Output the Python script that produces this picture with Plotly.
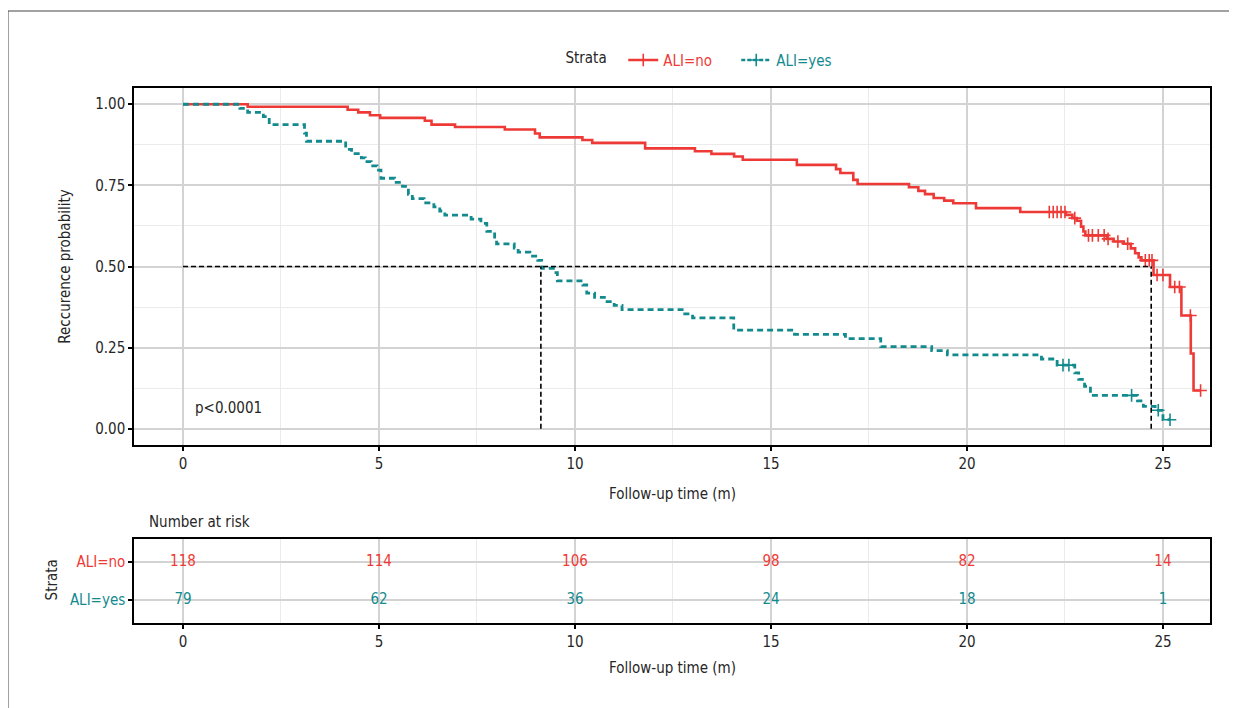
import numpy as np
import plotly.graph_objects as go

# ---------------- data ----------------
no_time = [0, 1.65, 4.2, 4.47, 4.77, 5.03, 6.17, 6.34, 6.94, 8.21, 8.98, 9.1, 10.19, 10.44,
           11.79, 13.06, 13.48, 14.06, 14.28, 15.66, 16.66, 16.77, 17.1, 17.21, 18.52, 18.76,
           18.93, 19.15, 19.42, 19.65, 20.23, 21.36, 22.52, 22.69, 22.8, 22.91, 22.97, 23.02,
           23.57, 23.74, 24.0, 24.18, 24.29, 24.38, 24.45, 24.76, 25.18, 25.47, 25.71, 25.78]
no_surv = [1.0, 0.992, 0.983, 0.975, 0.966, 0.958, 0.949, 0.937, 0.930, 0.922, 0.910, 0.898,
           0.890, 0.881, 0.864, 0.855, 0.847, 0.839, 0.829, 0.813, 0.800, 0.788, 0.767, 0.754,
           0.744, 0.733, 0.723, 0.711, 0.703, 0.695, 0.680, 0.668, 0.659, 0.649, 0.641, 0.623,
           0.608, 0.596, 0.585, 0.577, 0.570, 0.556, 0.541, 0.528, 0.519, 0.474, 0.437, 0.349,
           0.232, 0.118]
no_end = 25.96
no_cens = [22.1, 22.2, 22.3, 22.4, 22.5, 22.75, 23.1, 23.2, 23.35, 23.5, 23.6, 23.85, 24.1,
           24.55, 24.65, 24.72, 24.85, 25.0, 25.3, 25.42, 25.7, 25.96]

yes_time = [0, 1.45, 1.65, 2.05, 2.2, 3.1, 3.15, 4.15, 4.3, 4.55, 4.65, 4.8, 4.95, 5.05, 5.4,
            5.6, 5.75, 5.85, 6.15, 6.4, 6.55, 6.68, 7.35, 7.6, 7.75, 7.95, 8.0, 8.45, 8.55, 8.85,
            9.05, 9.15, 9.45, 9.55, 10.2, 10.3, 10.5, 10.75, 11.0, 11.2, 12.8, 13.0, 14.05, 15.6,
            16.9, 17.8, 19.1, 19.5, 21.9, 22.3, 22.75, 22.85, 23.0, 23.15, 24.35, 24.5, 24.8, 25.0]
yes_surv = [1.0, 0.987, 0.975, 0.962, 0.937, 0.911, 0.886, 0.861, 0.848, 0.835, 0.823, 0.810,
            0.797, 0.772, 0.759, 0.747, 0.722, 0.709, 0.696, 0.684, 0.671, 0.658, 0.646, 0.633,
            0.608, 0.583, 0.570, 0.557, 0.544, 0.532, 0.519, 0.494, 0.481, 0.456, 0.443, 0.418,
            0.405, 0.392, 0.380, 0.367, 0.354, 0.342, 0.304, 0.291, 0.278, 0.253, 0.241, 0.228,
            0.215, 0.196, 0.172, 0.152, 0.131, 0.103, 0.086, 0.069, 0.057, 0.028]
yes_end = 25.18
yes_cens = [22.45, 22.6, 24.2, 24.88, 25.18]

median_no = 24.7
median_yes = 9.13

risk_times = [0, 5, 10, 15, 20, 25]
risk_no = [118, 114, 106, 98, 82, 14]
risk_yes = [79, 62, 36, 24, 18, 1]

strata_names = ["ALI=no", "ALI=yes"]
p_text = "p<0.0001"

# ---------------- style ----------------
RED = "#EE3A36"
TEAL = "#138A8E"
TXT = "#262626"
FONT = "Liberation Sans Narrow, DejaVu Sans Condensed, Arial Narrow, sans-serif"
FS = 15
GMAJ = "#D3D3D3"
GMIN = "#EBEBEB"


def step_at(times, surv, t):
    idx = np.searchsorted(np.asarray(times), t, side="right") - 1
    return np.asarray(surv)[idx]


fig = go.Figure()

fig.add_trace(go.Scatter(x=no_time + [no_end], y=no_surv + [no_surv[-1]], mode="lines",
                         line=dict(color=RED, width=2.6, shape="hv"), showlegend=False,
                         xaxis="x", yaxis="y"))
fig.add_trace(go.Scatter(x=yes_time + [yes_end], y=yes_surv + [yes_surv[-1]], mode="lines",
                         line=dict(color=TEAL, width=2.8, shape="hv", dash="6px,4px"),
                         showlegend=False, xaxis="x", yaxis="y"))
fig.add_trace(go.Scatter(x=no_cens, y=step_at(no_time, no_surv, no_cens), mode="markers",
                         marker=dict(symbol="cross-thin", size=9, line=dict(color=RED, width=1.6)),
                         showlegend=False, xaxis="x", yaxis="y"))
fig.add_trace(go.Scatter(x=yes_cens, y=step_at(yes_time, yes_surv, yes_cens), mode="markers",
                         marker=dict(symbol="cross-thin", size=9, line=dict(color=TEAL, width=1.6)),
                         showlegend=False, xaxis="x", yaxis="y"))

fig.add_trace(go.Scatter(x=[0, median_no], y=[0.5, 0.5], mode="lines",
                         line=dict(color="black", width=1.6, dash="5px,3px"), showlegend=False))
fig.add_trace(go.Scatter(x=[median_yes, median_yes], y=[0, 0.5], mode="lines",
                         line=dict(color="black", width=1.6, dash="5px,3px"), showlegend=False))
fig.add_trace(go.Scatter(x=[median_no, median_no], y=[0, 0.5], mode="lines",
                         line=dict(color="black", width=1.6, dash="5px,3px"), showlegend=False))

fig.add_trace(go.Scatter(x=[None], y=[None], mode="lines+markers",
                         name='<span style="color:%s">%s</span>' % (RED, strata_names[0]),
                         line=dict(color=RED, width=2.6),
                         marker=dict(symbol="cross-thin", size=9, line=dict(color=RED, width=1.6))))
fig.add_trace(go.Scatter(x=[None], y=[None], mode="lines+markers",
                         name='<span style="color:%s">%s</span>' % (TEAL, strata_names[1]),
                         line=dict(color=TEAL, width=2.6, dash="4px,2px"),
                         marker=dict(symbol="cross-thin", size=9, line=dict(color=TEAL, width=1.6))))

fig.add_trace(go.Scatter(x=risk_times, y=[2] * len(risk_times), mode="text",
                         text=[str(v) for v in risk_no], textfont=dict(color=RED, size=FS, family=FONT),
                         showlegend=False, xaxis="x2", yaxis="y2"))
fig.add_trace(go.Scatter(x=risk_times, y=[1] * len(risk_times), mode="text",
                         text=[str(v) for v in risk_yes], textfont=dict(color=TEAL, size=FS, family=FONT),
                         showlegend=False, xaxis="x2", yaxis="y2"))

axis_common = dict(showline=True, linecolor="black", linewidth=1.5, mirror=True,
                   ticks="outside", ticklen=4, tickwidth=1.5, tickcolor="black",
                   tickfont=dict(size=FS, color=TXT, family=FONT), zeroline=False,
                   gridcolor=GMAJ, gridwidth=1.5)

tfont = dict(size=FS, color=TXT, family=FONT)

fig.update_layout(
    width=1237, height=708,
    margin=dict(l=126, r=35, t=80, b=93),
    paper_bgcolor="white", plot_bgcolor="white",
    font=dict(family=FONT, size=FS, color=TXT),
    xaxis=dict(domain=[0, 1], range=[-1.25, 26.2], tickvals=risk_times, anchor="y",
               minor=dict(dtick=2.5, tick0=0, showgrid=True, gridcolor=GMIN, gridwidth=1, ticks=""),
               **axis_common),
    yaxis=dict(domain=[0.3327, 1], range=[-0.05, 1.05], tickvals=[0, 0.25, 0.5, 0.75, 1.0],
               tickformat=".2f", anchor="x",
               minor=dict(dtick=0.125, tick0=0, showgrid=True, gridcolor=GMIN, gridwidth=1, ticks=""),
               **axis_common),
    xaxis2=dict(domain=[0, 1], range=[-1.25, 26.2], tickvals=risk_times, anchor="y2",
                minor=dict(dtick=2.5, tick0=0, showgrid=True, gridcolor=GMIN, gridwidth=1, ticks=""),
                **axis_common),
    yaxis2=dict(domain=[0, 0.157], range=[0.4, 2.6], tickvals=[2, 1], anchor="x2",
                ticktext=['<span style="color:%s">%s</span>' % (RED, strata_names[0]),
                          '<span style="color:%s">%s</span>' % (TEAL, strata_names[1])],
                **axis_common),
    legend=dict(orientation="h", x=0.532, xanchor="center", y=1.052, yanchor="middle",
                title=dict(text="Strata  ", font=tfont),
                font=dict(size=FS, family=FONT), itemwidth=30, entrywidth=68,
                entrywidthmode="pixels", bgcolor="rgba(0,0,0,0)"),
    annotations=[
        dict(text="Reccurence probability", textangle=-90, x=-0.0641, y=0.666, xref="paper",
             yref="paper", showarrow=False, xanchor="center", yanchor="middle", font=tfont),
        dict(text="Follow-up time (m)", x=0.5, y=0.241, xref="paper", yref="paper",
             showarrow=False, xanchor="center", yanchor="middle", font=tfont),
        dict(text="Follow-up time (m)", x=0.5, y=-0.084, xref="paper", yref="paper",
             showarrow=False, xanchor="center", yanchor="middle", font=tfont),
        dict(text="Number at risk", x=0.012, y=0.189, xref="paper", yref="paper",
             showarrow=False, xanchor="left", yanchor="middle", font=tfont),
        dict(text="Strata", textangle=-90, x=-0.076, y=0.080, xref="paper", yref="paper",
             showarrow=False, xanchor="center", yanchor="middle", font=tfont),
        dict(text=p_text, x=0.25, y=0.065, xref="x", yref="y", showarrow=False,
             xanchor="left", yanchor="middle", font=tfont),
    ],
    shapes=[
        dict(type="line", xref="paper", yref="paper", x0=-0.1171, x1=1.05, y0=1.1439, y1=1.1439,
             line=dict(color="#444444", width=1)),
        dict(type="line", xref="paper", yref="paper", x0=-0.1171, x1=-0.1171, y0=1.1439, y1=-0.2,
             line=dict(color="#444444", width=1)),
    ],
)

fig.write_html("out.html")
